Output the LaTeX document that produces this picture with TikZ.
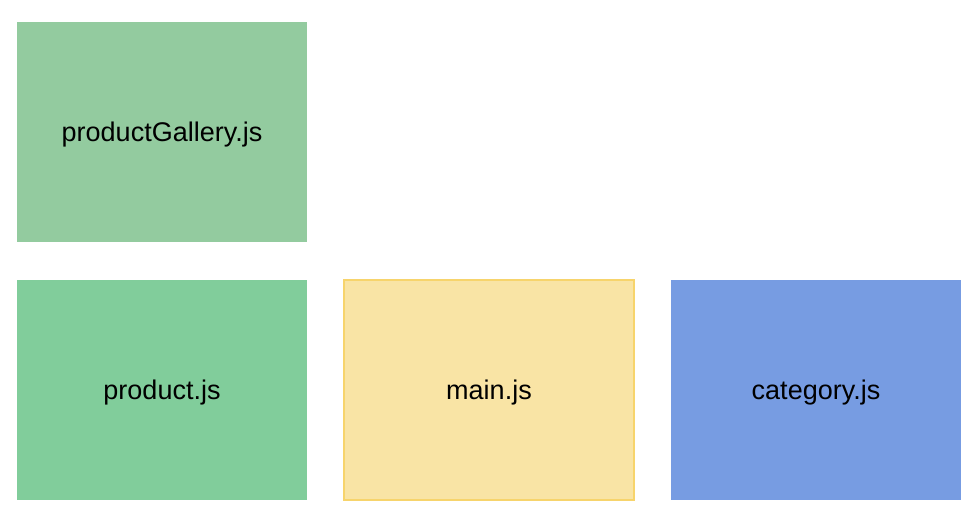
\documentclass[tikz,border=0pt]{standalone}
\usepackage{fontspec}
\setmainfont{Liberation Sans}
\definecolor{gallerycolor}{HTML}{93CB9F}
\definecolor{productcolor}{HTML}{81CD9B}
\definecolor{maincolor}{HTML}{F9E4A5}
\definecolor{mainborder}{HTML}{F7D46C}
\definecolor{categorycolor}{HTML}{779CE2}
\usetikzlibrary{positioning}

\begin{document}
\begin{tikzpicture}[x=1pt, y=-1pt]

    \tikzset{%
        module/.style={%
                minimum width=290pt, minimum height=220pt,
                inner sep=0pt, outer sep=0pt,
                text height=19.5pt, text depth=0pt,
                font=\fontsize{27pt}{30pt}\selectfont
            },
        node distance=38pt and 37pt
    }

    \useasboundingbox (0, 0) rectangle (976, 522);

    \node [module, fill=gallerycolor] (gallery) at (162, 132) {productGallery.js};
    \node [module, fill=productcolor, below=of gallery] (product) {product.js};
    \node [module, fill=maincolor, draw=mainborder, line width=1.5pt, right=of product] (main) {main.js};
    \node [module, fill=categorycolor, right=of main] (category) {category.js};

\end{tikzpicture}
\end{document}
